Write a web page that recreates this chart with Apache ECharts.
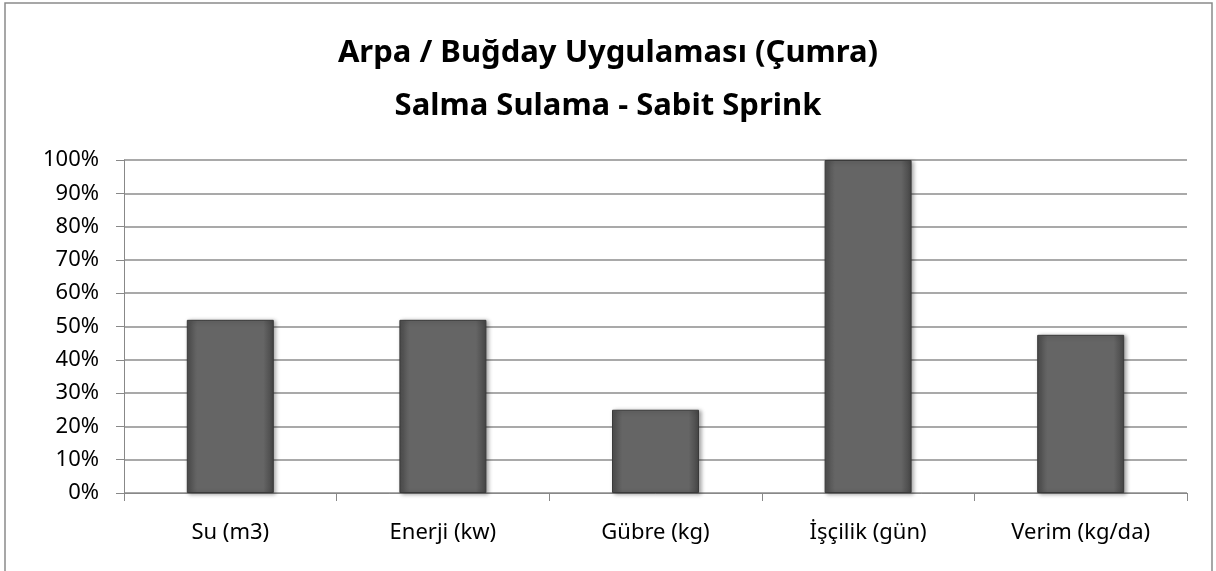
<!DOCTYPE html>
<html>
<head>
<meta charset="utf-8">
<script src="https://cdn.jsdelivr.net/npm/echarts@6/dist/echarts.min.js"></script>
<style>
  html, body { margin: 0; padding: 0; background: #fff; }
  #chart { width: 1216px; height: 571px; }
</style>
</head>
<body>
<div id="chart"></div>
<script>
const categories = ['Su (m3)', 'Enerji (kw)', 'Gübre (kg)', 'İşçilik (gün)', 'Verim (kg/da)']
const values = [52, 52, 25, 100, 47.5]
const titleLines = ['Arpa / Buğday Uygulaması (Çumra)', 'Salma Sulama - Sabit Sprink']

const chart = echarts.init(document.getElementById('chart'))

const barFill = new echarts.graphic.LinearGradient(0, 0, 1, 0, [
  { offset: 0, color: '#4e4e4e' },
  { offset: 0.12, color: '#656565' },
  { offset: 0.88, color: '#656565' },
  { offset: 1, color: '#454545' }
])

const option = {
  animation: false,
  backgroundColor: '#fff',
  textStyle: { fontFamily: 'Noto Sans' },
  title: {
    text: titleLines.join('\n'),
    left: 'center',
    top: 22,
    textStyle: {
      fontFamily: 'Noto Sans',
      fontSize: 31,
      fontWeight: 'bold',
      color: '#000',
      lineHeight: 53
    }
  },
  graphic: [{
    type: 'rect',
    shape: { x: 5, y: 3, width: 1207, height: 600 },
    style: { fill: 'none', stroke: '#8a8a8a', lineWidth: 1.5 },
    silent: true
  }],
  grid: { left: 124, right: 29, top: 160, bottom: 78 },
  xAxis: {
    type: 'category',
    data: categories,
    axisLine: { lineStyle: { color: '#888', width: 1 } },
    axisTick: { show: true, length: 8, lineStyle: { color: '#888' } },
    axisLabel: { color: '#000', fontSize: 22, margin: 29 }
  },
  yAxis: {
    type: 'value',
    min: 0,
    max: 100,
    interval: 10,
    axisLine: { show: true, lineStyle: { color: '#888', width: 1 } },
    axisTick: { show: true, length: 8, lineStyle: { color: '#888' } },
    axisLabel: { color: '#000', fontSize: 22, margin: 25, formatter: '{value}%' },
    splitLine: { lineStyle: { color: '#8c8c8c', width: 1.5 } }
  },
  series: [{
    type: 'bar',
    data: values,
    barWidth: 87,
    itemStyle: {
      color: barFill,
      borderColor: '#3a3a3a',
      borderWidth: 1,
      shadowColor: 'rgba(0,0,0,0.35)',
      shadowBlur: 4,
      shadowOffsetX: 2,
      shadowOffsetY: 1
    }
  }]
}

chart.setOption(option)
</script>
</body>
</html>
